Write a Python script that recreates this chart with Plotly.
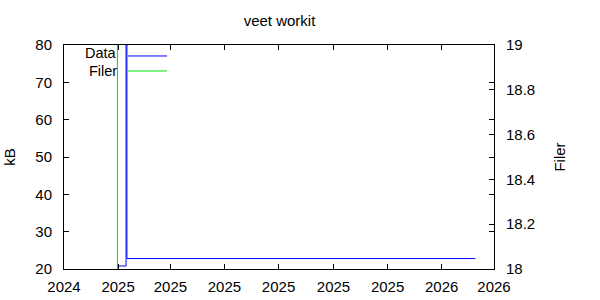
import plotly.graph_objects as go

# ---- data ----
data_times = ["2024-12-31", "2025-01-10", "2025-01-11", "2026-02-08"]
data_kb = [20.8, 80.0, 22.8, 22.8]

filer_times = ["2024-12-31", "2024-12-31 06:00"]
filer_vals = [18, 19]

x_range = ["2024-11-01", "2026-03-01"]
y_range = [20, 80]
y2_range = [18, 19]

title_text = "veet workit"
series_names = ["Data", "Filer"]
colors = ["#0000ff", "#00e000"]

FONT = "Liberation Sans, Arial, sans-serif"

fig = go.Figure()
fig.add_trace(go.Scatter(x=data_times, y=data_kb, mode="lines", line=dict(color=colors[0], width=1, shape="hv"),
                         name=series_names[0], showlegend=False))
fig.add_trace(go.Scatter(x=filer_times, y=filer_vals, mode="lines", line=dict(color=colors[1], width=1, shape="hv"),
                         name=series_names[1], yaxis="y2", showlegend=False))

# manual gnuplot-style legend (text left, sample right)
leg_text_y = [0.963, 0.886]
leg_line_y = [0.951, 0.884]
for i, name in enumerate(series_names):
    fig.add_annotation(x=0.1256, y=leg_text_y[i], xref="paper", yref="paper", text=name, showarrow=False,
                       xanchor="right", yanchor="middle", borderpad=0,
                       font=dict(size=14.5, color="black", family=FONT))
    fig.add_shape(type="line", xref="paper", yref="paper", x0=0.1488, x1=0.2395,
                  y0=leg_line_y[i], y1=leg_line_y[i], line=dict(color=colors[i], width=1))

axis_common = dict(showline=True, linecolor="black", linewidth=1, ticks="inside", ticklen=5,
                   tickcolor="black", showgrid=False, zeroline=False, automargin=False,
                   tickfont=dict(size=15, color="black", family=FONT))

fig.update_layout(
    width=600, height=300,
    margin=dict(l=64, r=106, t=45, b=31, pad=0, autoexpand=False),
    paper_bgcolor="white", plot_bgcolor="white",
    font=dict(family=FONT, size=15, color="black"),
    title=dict(text=title_text, x=279.5 / 600, xanchor="center", y=1 - 21 / 300, yanchor="middle",
               xref="container", yref="container", font=dict(size=15, family=FONT, color="black")),
    xaxis=dict(type="date", range=x_range, tick0="2024-11-01", dtick="M2", tickformat="%Y",
               mirror="ticks", ticklabelstandoff=4, **axis_common),
    yaxis=dict(range=y_range, dtick=10, mirror="ticks", ticklabelstandoff=8,
               title=dict(text="kB", standoff=16, font=dict(size=15, family=FONT)), **axis_common),
    yaxis2=dict(range=y2_range, dtick=0.2, overlaying="y", side="right", ticklabelstandoff=8,
                title=dict(text="Filer", standoff=20, font=dict(size=15, family=FONT)), **axis_common),
)

fig.write_html("out.html")
